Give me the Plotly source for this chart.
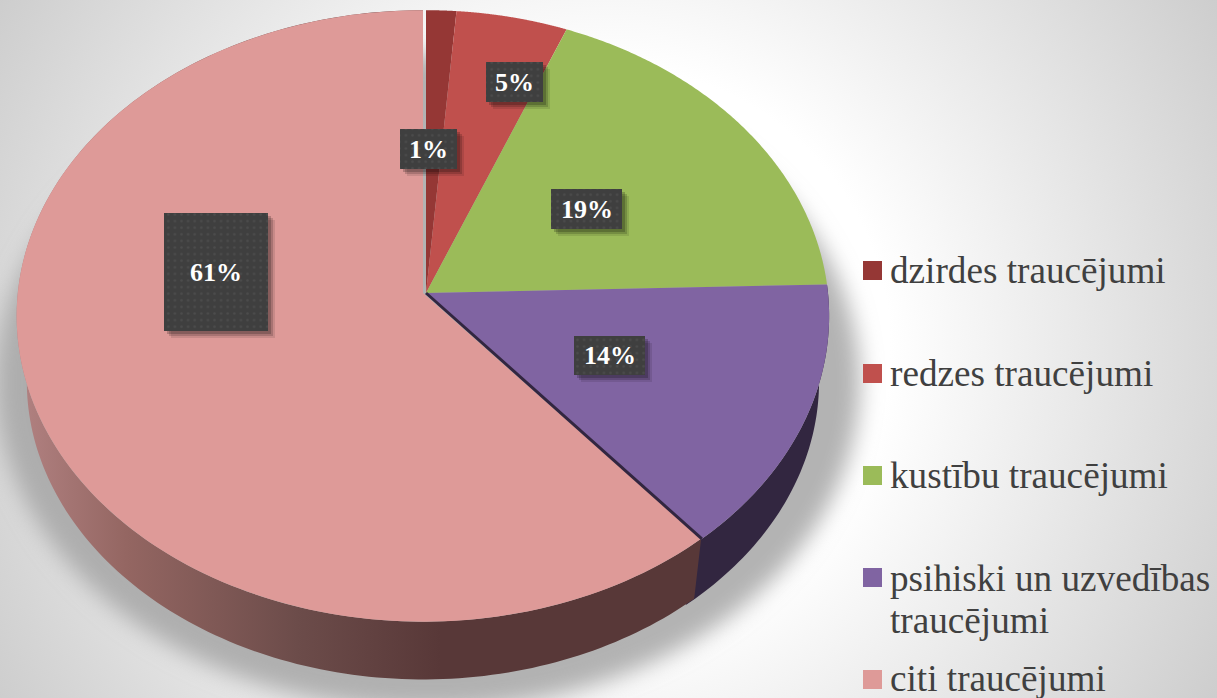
import base64
import numpy as np
import plotly.graph_objects as go

# ---- data ----
categories = ["dzirdes traucējumi", "redzes traucējumi", "kustību traucējumi",
              "psihiski un uzvedības", "citi traucējumi"]
continuation = "traucējumi"
values = [1.3, 4.8, 18.45, 14.25, 61.2]
pct_labels = ["1%", "5%", "19%", "14%", "61%"]
colors = ["#953735", "#C0504D", "#9BBB59", "#8064A2", "#DE9A98"]

# label boxes (left, right, top, bottom) in page pixels
label_boxes = [(400, 457, 129, 169), (486, 543, 62, 102), (551, 622, 189, 229),
               (574, 645, 336, 375), (164, 268, 213, 331)]
legend_y = [270.5, 373.5, 475.5, 577.5, 679.5]
legend_text_y = [270, 373, 475, 578, 678]
continuation_y = 620

# ---- projection of the tilted disc ----
CX, CY = 426.0, 293.0
RX, RY, K = 402.0, 304.0, 0.075
DEPTH, SHRINK = 66.0, 0.975
CITI_SHIFT = -3.0
CITI_SCALE = 1.008

def top(theta, dx=0.0, scale=1.0):
    x, y = np.sin(theta), np.cos(theta)
    w = 1 + K * y
    return CX + dx + scale * RX * x / w, CY - RY * y / w

def bottom(theta, dx=0.0, scale=1.0):
    X, Y = top(theta, 0.0, scale)
    return CX + dx + SHRINK * (X - CX), CY + DEPTH + SHRINK * (Y - CY)

total = sum(values)
edges = np.concatenate([[0], np.cumsum(values)]) / total * 2 * np.pi

# ---- background with radial gradient and blurred shadow ----
svg = """<svg xmlns="http://www.w3.org/2000/svg" width="1217" height="698" viewBox="0 0 1217 698">
<defs>
<radialGradient id="g" gradientUnits="userSpaceOnUse" cx="608" cy="349" r="705">
<stop offset="0.40" stop-color="#ffffff"/><stop offset="1" stop-color="#cdcdcd"/></radialGradient>
<filter id="b" x="-20%" y="-20%" width="140%" height="140%"><feGaussianBlur stdDeviation="11"/></filter>
</defs>
<rect width="1217" height="698" fill="url(#g)"/>
<ellipse cx="428" cy="382" rx="432" ry="328" fill="#a6a6a6" fill-opacity="0.85" filter="url(#b)"/>
</svg>"""
bg = "data:image/svg+xml;base64," + base64.b64encode(svg.encode()).decode()

fig = go.Figure()

# side walls (purple, then the large slice)
t = np.linspace(edges[3], edges[4] + 0.03, 60)
x1, y1 = top(t); x2, y2 = bottom(t)
fig.add_trace(go.Scatter(x=np.r_[x1, x2[::-1]], y=np.r_[y1, y2[::-1]], fill="toself", mode="none",
                         fillcolor="#322640", hoverinfo="skip", showlegend=False))
t = np.linspace(edges[4], edges[5], 200)
x1, y1 = top(t, CITI_SHIFT, CITI_SCALE); x2, y2 = bottom(t, CITI_SHIFT, CITI_SCALE)
fig.add_trace(go.Scatter(x=np.r_[x1, x2[::-1]], y=np.r_[y1, y2[::-1]], fill="toself", mode="none",
                         fillgradient=dict(type="horizontal", colorscale=[
                             [0, "#b28282"], [0.16, "#946662"], [0.41, "#6c4c4a"],
                             [0.62, "#583838"], [1, "#583838"]]),
                         hoverinfo="skip", showlegend=False))

# top faces
for i, name in enumerate(categories):
    dx = CITI_SHIFT if i == 4 else 0.0
    sc = CITI_SCALE if i == 4 else 1.0
    t = np.linspace(edges[i], edges[i + 1], 160)
    X, Y = top(t, dx, sc)
    fig.add_trace(go.Scatter(x=np.r_[CX + dx, X, CX + dx], y=np.r_[CY, Y, CY], fill="toself", mode="none",
                             fillcolor=colors[i], name=name,
                             hoverinfo="name", showlegend=False))

# dark seam between the purple and the large slice
Xs, Ys = top(edges[4])
fig.add_trace(go.Scatter(x=[CX, Xs], y=[CY, Ys], mode="lines", line=dict(color="#322640", width=3),
                         hoverinfo="skip", showlegend=False))

# label boxes with soft shadow and text
for (l, r, t_, b), txt in zip(label_boxes, pct_labels):
    for off, op in ((7, 0.10), (5, 0.16), (3, 0.2)):
        fig.add_trace(go.Scatter(x=[l + off, r + off, r + off, l + off, l + off],
                                 y=[t_ + off, t_ + off, b + off, b + off, t_ + off],
                                 fill="toself", mode="none", fillcolor=f"rgba(0,0,0,{op})",
                                 hoverinfo="skip", showlegend=False))
    fig.add_trace(go.Scatter(x=[l, r, r, l, l], y=[t_, t_, b, b, t_], fill="toself", mode="none",
                             fillcolor="#3f3f3f",
                             fillpattern=dict(shape=".", bgcolor="#3f3f3f", fgcolor="#5a5a5a",
                                              size=6.6, solidity=0.12),
                             hoverinfo="skip", showlegend=False))
    fig.add_annotation(x=(l + r) / 2, y=(t_ + b) / 2, text=f"<b>{txt}</b>", showarrow=False,
                       font=dict(family="Liberation Serif", size=26, color="#ffffff"))

# legend
fig.add_trace(go.Scatter(x=[872.5] * 5, y=legend_y, mode="markers",
                         marker=dict(symbol="square", size=19, color=colors, line=dict(width=0)),
                         hoverinfo="skip", showlegend=False))
for name, y in zip(categories + [continuation], legend_text_y + [continuation_y]):
    fig.add_annotation(x=888, y=y, text=name, showarrow=False, xanchor="left", align="left",
                       font=dict(family="Liberation Serif", size=37.2, color="#404040"))

fig.update_layout(
    width=1217, height=698, margin=dict(l=0, r=0, t=0, b=0),
    paper_bgcolor="#ffffff", plot_bgcolor="rgba(0,0,0,0)", showlegend=False,
    xaxis=dict(range=[0, 1217], visible=False, fixedrange=True),
    yaxis=dict(range=[698, 0], visible=False, fixedrange=True),
    images=[dict(source=bg, xref="paper", yref="paper", x=0, y=1, sizex=1, sizey=1,
                 xanchor="left", yanchor="top", sizing="stretch", layer="below")],
)
fig.write_html("out.html", config={"displayModeBar": False},
               post_script="document.body.style.margin='0';")
